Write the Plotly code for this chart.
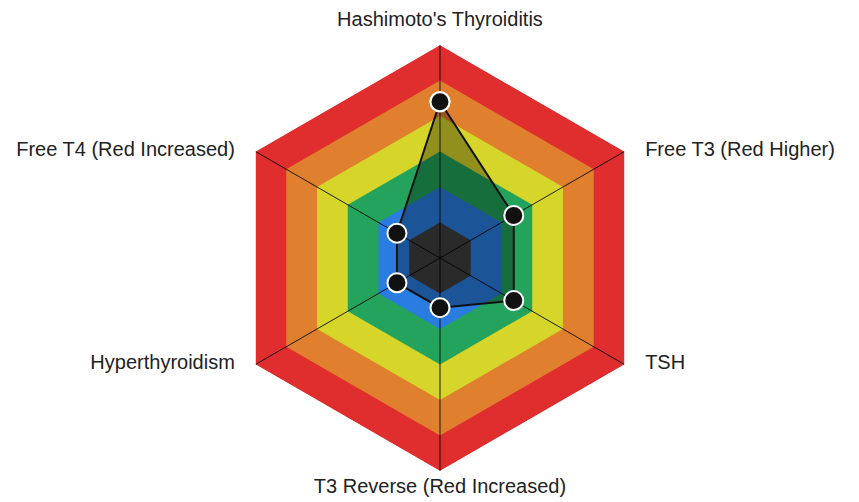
import plotly.graph_objects as go

categories = ["Hashimoto's Thyroiditis", "Free T3 (Red Higher)", "TSH",
              "T3 Reverse (Red Increased)", "Hyperthyroidism", "Free T4 (Red Increased)"]
values = [4.4, 2.4, 2.4, 1.4, 1.4, 1.4]

band_levels = [6, 5, 4, 3, 2, 1]
band_colors = ["#e02e2e", "#e0802e", "#d6d52a", "#23a35b", "#2a7ce0", "#3e3e3e"]

# label placement around the hexagon (invisible marker size sets the text gap)
label_positions = ["top center", "middle right", "middle right",
                   "bottom center", "middle left", "middle left"]
label_gaps = [21, 31.5, 31.5, 9, 31.5, 31.5]

theta_closed = categories + categories[:1]

fig = go.Figure()

# Colored hexagon bands, biggest first
for level, color in zip(band_levels, band_colors):
    fig.add_trace(go.Scatterpolar(
        r=[level] * len(theta_closed), theta=theta_closed,
        mode="lines", fill="toself", fillcolor=color,
        line=dict(width=0, color=color), hoverinfo="skip"))

# Spokes
for cat in categories:
    fig.add_trace(go.Scatterpolar(
        r=[0, band_levels[0]], theta=[cat, cat], mode="lines",
        line=dict(color="rgba(0,0,0,0.85)", width=1), hoverinfo="skip"))

# Data polygon
fig.add_trace(go.Scatterpolar(
    r=values + values[:1], theta=theta_closed,
    mode="lines+markers", fill="toself", fillcolor="rgba(0,0,0,0.32)",
    line=dict(color="#111111", width=2),
    marker=dict(size=19, color="#111111", line=dict(color="white", width=2))))

# Category labels at the outer vertices
fig.add_trace(go.Scatterpolar(
    r=[band_levels[0]] * len(categories), theta=categories,
    mode="markers+text", text=categories, textposition=label_positions,
    textfont=dict(family="Liberation Sans, Arial, sans-serif", size=20, color="#222222"),
    marker=dict(size=label_gaps, color="rgba(0,0,0,0)", line=dict(width=0)),
    cliponaxis=False, hoverinfo="skip"))

fig.update_layout(
    width=859, height=502,
    margin=dict(l=0, r=0, t=0, b=0),
    paper_bgcolor="white",
    showlegend=False,
    font=dict(family="Liberation Sans, Arial, sans-serif", size=20, color="#222222"),
    polar=dict(
        domain=dict(x=[0.2549, 0.7509], y=[0.0777, 0.9263]),
        bgcolor="white",
        gridshape="linear",
        radialaxis=dict(visible=False, range=[0, 6]),
        angularaxis=dict(direction="clockwise", rotation=90, showgrid=False,
                         showline=False, ticks="", showticklabels=False),
    ),
)

fig.write_html("out.html")
